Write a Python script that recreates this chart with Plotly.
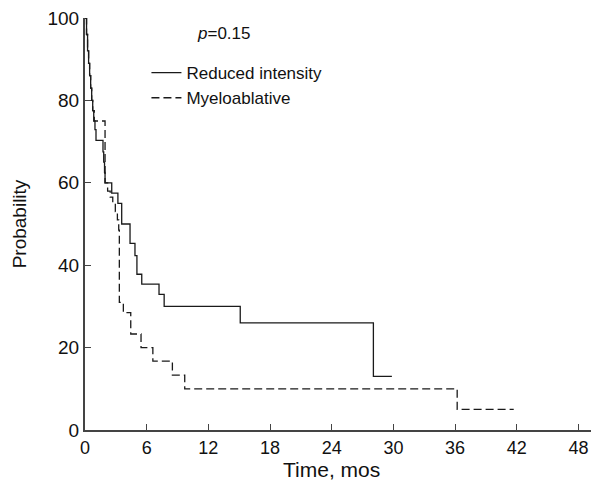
import plotly.graph_objects as go

# Kaplan-Meier style step data
ri_time = [0, 0.15, 0.25, 0.35, 0.45, 0.55, 0.65, 0.75, 0.85, 0.97, 1.07, 1.75, 1.82, 1.9, 1.95,
           2.6, 3.2, 3.57, 4.38, 4.86, 5.05, 5.52, 7.2, 7.7, 15.1, 28.05, 29.85]
ri_surv = [100, 96, 92, 89, 86, 83, 80, 77.5, 75, 72.9, 70.3, 67.5, 65, 62.5, 60,
           57.5, 55, 50, 45.3, 42.3, 37.8, 35.4, 32.9, 30, 26, 13, 13]

ma_time = [0, 0.15, 0.25, 0.35, 0.45, 0.55, 0.65, 0.75, 0.9, 1.95, 2.2, 2.45, 2.7, 2.95, 3.15,
           3.28, 3.34, 3.73, 4.45, 5.45, 6.6, 8.5, 9.7, 36.2, 41.7]
ma_surv = [100, 96, 92, 89, 86, 83, 80, 77.5, 75, 60, 58, 56.5, 55, 53, 51,
           48.5, 31, 28.5, 23.3, 20, 16.7, 13.3, 10, 5, 5]

x_ticks = [0, 6, 12, 18, 24, 30, 36, 42, 48]
y_ticks = [0, 20, 40, 60, 80, 100]

FONT = "Liberation Sans, Arial, sans-serif"

fig = go.Figure()
fig.add_trace(go.Scatter(x=ri_time, y=ri_surv, mode="lines", line_shape="hv",
                         name="Reduced intensity",
                         line=dict(color="#1a1a1a", width=1.3)))
fig.add_trace(go.Scatter(x=ma_time, y=ma_surv, mode="lines", line_shape="hv",
                         name="Myeloablative",
                         line=dict(color="#1a1a1a", width=1.3, dash="8px,4px")))

fig.add_annotation(text="<i>p</i>=0.15", xref="paper", yref="paper",
                   x=0.215, y=0.963, xanchor="left", yanchor="middle",
                   showarrow=False, font=dict(family=FONT, size=17, color="#111"))

# x-axis title centred under the 0-48 tick span, as in the reference
fig.add_annotation(text="Time, mos", xref="x", yref="paper",
                   x=24, y=0, yshift=-39, xanchor="center", yanchor="middle",
                   showarrow=False, font=dict(family=FONT, size=21, color="#111"))

fig.update_layout(
    width=591, height=481,
    margin=dict(l=77, r=2, t=10, b=59),
    plot_bgcolor="white", paper_bgcolor="white",
    font=dict(family=FONT, size=20, color="#111"),
    showlegend=True,
    legend=dict(x=0.12, y=0.91, xanchor="left", yanchor="top",
                bgcolor="rgba(0,0,0,0)", font=dict(family=FONT, size=17, color="#111"),
                tracegroupgap=0, itemwidth=30),
    xaxis=dict(range=[0, 49.8], tickvals=x_ticks, ticktext=[str(v) for v in x_ticks],
               ticks="inside", ticklen=6, tickcolor="#444", tickwidth=1.2,
               showline=True, linecolor="#444", linewidth=2, showgrid=False,
               zeroline=False, automargin=False, ticklabeloverflow="allow",
               tickfont=dict(size=18)),
    yaxis=dict(range=[0, 100], tickvals=y_ticks, ticktext=[str(v) for v in y_ticks],
               ticks="inside", ticklen=6, tickcolor="#444", tickwidth=1.2,
               showline=True, linecolor="#444", linewidth=2, showgrid=False,
               zeroline=False, automargin=False, ticklabeloverflow="allow",
               title=dict(text="Probability", font=dict(size=19), standoff=16),
               tickfont=dict(size=19)),
)

fig.write_html("out.html")
